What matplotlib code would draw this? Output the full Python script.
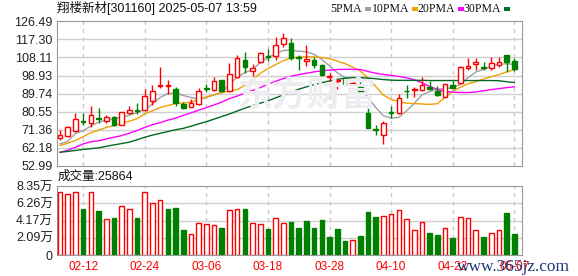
import numpy as np
import matplotlib.pyplot as plt
from matplotlib.patches import Rectangle

plt.rcParams['font.family'] = ['Liberation Sans', 'Noto Sans CJK SC']

# trading days shown on the chart
dates = ['02-07', '02-10', '02-11', '02-12', '02-13', '02-14', '02-17', '02-18', '02-19', '02-20',
         '02-21', '02-24', '02-25', '02-26', '02-27', '02-28', '03-03', '03-04', '03-05', '03-06',
         '03-07', '03-10', '03-11', '03-12', '03-13', '03-14', '03-17', '03-18', '03-19', '03-20',
         '03-21', '03-24', '03-25', '03-26', '03-27', '03-28', '03-31', '04-01', '04-02', '04-03',
         '04-07', '04-08', '04-09', '04-10', '04-11', '04-14', '04-15', '04-16', '04-17', '04-18',
         '04-21', '04-22', '04-23', '04-24', '04-25', '04-28', '04-29', '04-30', '05-06', '05-07']

opens = [67.26, 68.27, 70.96, 75.6, 75.0, 77.19, 76.01, 78.03, 73.99, 79.88,
         81.56, 81.56, 86.1, 93.51, 93.51, 92.33, 84.42, 83.08, 84.59, 92.5,
         91.66, 96.54, 91.15, 98.22, 106.8, 101.25, 105.79, 108.65, 108.82, 114.88,
         115.22, 108.32, 106.47, 106.63, 104.28, 98.05, 96.37, 97.21, 94.52, 93.34,
         79.71, 71.63, 68.94, 80.55, 80.05, 91.32, 91.49, 91.66, 93.34, 91.15,
         88.12, 94.18, 95.19, 102.93, 104.78, 103.44, 102.76, 104.45, 109.49, 106.13]
highs = [71.47, 73.2, 79.71, 80.05, 83.58, 82.23, 78.87, 78.53, 80.55, 83.58,
         85.09, 92.33, 94.18, 103.44, 96.87, 93.34, 85.26, 86.95, 92.84, 94.52,
         98.22, 96.87, 105.29, 109.49, 110.67, 104.62, 111.01, 112.19, 118.58, 120.6,
         118.08, 109.33, 114.37, 108.32, 104.62, 100.41, 97.37, 97.88, 96.54, 96.03,
         83.75, 73.99, 75.67, 83.58, 89.81, 94.18, 93.17, 98.39, 96.2, 93.84,
         94.69, 96.2, 103.77, 107.98, 107.98, 105.96, 108.49, 108.32, 109.6, 107.64]
lows = [66.25, 67.5, 70.29, 73.65, 72.98, 74.66, 75.0, 73.32, 73.8, 79.2,
        79.2, 81.05, 84.08, 92.84, 89.81, 83.58, 82.07, 82.74, 84.08, 90.82,
        91.15, 90.65, 90.82, 97.88, 100.07, 98.22, 105.29, 106.3, 106.8, 113.53,
        106.8, 101.75, 103.77, 102.93, 98.72, 96.2, 92.33, 94.18, 93.68, 89.97,
        72.1, 68.77, 64.23, 77.19, 79.38, 87.62, 88.29, 90.99, 91.83, 88.8,
        87.79, 92.5, 94.85, 101.75, 101.75, 101.75, 101.92, 103.27, 100.91, 101.25]
closes = [68.61, 72.98, 77.02, 75.4, 79.04, 77.0, 78.03, 73.82, 80.22, 81.56,
          80.72, 88.46, 91.15, 94.01, 94.01, 84.76, 82.57, 84.76, 91.15, 91.99,
          96.2, 90.99, 99.57, 107.81, 103.1, 102.93, 110.34, 108.32, 114.37, 117.91,
          107.64, 107.98, 107.14, 104.11, 99.23, 98.56, 96.87, 94.85, 95.02, 90.48,
          72.31, 71.3, 74.66, 80.05, 87.62, 90.99, 91.99, 94.35, 91.99, 89.13,
          94.69, 92.84, 103.27, 103.77, 105.79, 102.6, 105.12, 105.96, 105.79, 102.43]

# volume in 万 shares, and whether the bar is drawn red (up)
volumes = [7.66, 7.38, 7.66, 5.53, 7.66, 5.32, 4.32, 4.44, 5.93, 5.53,
           4.44, 7.66, 6.25, 6.62, 5.53, 5.65, 3.03, 2.50, 3.83, 3.75,
           3.63, 3.23, 5.41, 5.53, 5.53, 3.83, 3.75, 3.11, 4.44, 3.83,
           3.99, 3.31, 4.11, 3.27, 4.24, 2.18, 3.15, 1.69, 1.77, 2.30,
           5.20, 4.60, 4.72, 4.96, 5.41, 4.32, 2.98, 3.95, 2.66, 2.42,
           3.23, 2.06, 4.56, 4.44, 2.98, 2.18, 2.66, 2.98, 5.08, 2.54]
vol_up = [1, 1, 1, 0, 1, 0, 1, 0, 1, 1, 0, 1, 1, 1, 0, 0, 0, 1, 1, 1,
          1, 0, 1, 1, 0, 1, 1, 0, 1, 1, 0, 0, 0, 0, 0, 0, 0, 0, 1, 0,
          0, 0, 1, 1, 1, 1, 1, 1, 0, 0, 1, 0, 1, 1, 1, 0, 1, 1, 0, 0]

ma5 = [64.2, 65.6, 69.5, 71.0, 73.3, 75.2, 76.5, 77.0, 77.7, 78.8,
       80.0, 81.7, 84.5, 87.8, 89.8, 90.1, 88.8, 87.8, 86.9, 87.8,
       89.1, 90.3, 94.5, 98.2, 100.4, 102.1, 105.5, 108.0, 110.0, 111.7,
       111.8, 111.3, 111.0, 109.7, 107.1, 103.8, 100.4, 97.9, 96.2, 92.8,
       87.8, 82.7, 78.5, 77.3, 77.7, 81.0, 84.8, 89.1, 90.8, 92.0,
       92.3, 92.8, 94.5, 97.9, 100.7, 102.1, 103.8, 104.6, 104.9, 104.6]
ma10 = [63.4, 64.6, 65.9, 67.9, 69.9, 71.2, 72.6, 73.5, 74.7, 75.8,
        77.0, 79.5, 81.0, 82.7, 83.7, 84.7, 85.0, 85.4, 86.7, 88.1,
        89.1, 90.3, 91.0, 91.8, 94.0, 97.0, 100.0, 102.5, 104.5, 106.5,
        107.9, 108.3, 108.5, 108.4, 108.1, 107.5, 106.3, 105.0, 103.2, 101.2,
        97.7, 93.4, 89.0, 86.8, 85.7, 84.9, 84.7, 84.5, 84.3, 84.6,
        87.8, 91.0, 93.0, 94.8, 95.8, 97.2, 98.3, 99.4, 100.8, 101.9]
ma20 = [59.9, 61.0, 62.5, 64.2, 65.3, 65.8, 66.7, 67.6, 68.4, 69.7,
        71.0, 72.6, 74.0, 75.0, 76.3, 77.3, 78.7, 80.0, 81.3, 82.7,
        84.0, 85.5, 87.2, 88.5, 90.0, 91.4, 92.8, 94.6, 96.0, 97.4,
        98.6, 99.4, 100.1, 100.8, 101.3, 101.7, 102.0, 102.1, 102.1, 102.0,
        101.0, 100.1, 99.5, 99.0, 98.5, 97.8, 96.8, 95.3, 93.4, 91.9,
        90.9, 90.5, 90.3, 90.3, 90.6, 91.2, 91.8, 92.3, 92.8, 93.2]
ma30 = [60.0, 60.4, 60.9, 61.4, 61.8, 62.2, 63.0, 63.7, 64.4, 65.1,
        66.3, 67.6, 68.7, 69.6, 70.5, 71.4, 72.1, 73.2, 74.4, 75.5,
        76.8, 78.1, 79.4, 80.9, 82.4, 83.6, 84.9, 86.1, 87.6, 89.1,
        90.6, 92.0, 93.2, 94.3, 95.3, 96.2, 97.0, 97.6, 97.9, 97.9,
        97.6, 97.3, 96.9, 96.6, 96.5, 96.5, 96.5, 96.5, 96.4, 96.4,
        96.4, 96.4, 96.4, 96.4, 96.4, 96.4, 96.4, 96.3, 95.8, 95.4]

price_ticks = [52.99, 62.18, 71.36, 80.55, 89.74, 98.93, 108.11, 117.30, 126.49]
vol_ticks = [0, 2.09, 4.17, 6.26, 8.35]
vol_tick_labels = ['0', '2.09万', '4.17万', '6.26万', '8.35万']
label_idx = [3, 11, 19, 27, 35, 43, 51, 59]

RED = '#ff0000'
GREEN = '#008000'
W, H = 578, 276

fig = plt.figure(figsize=(W / 100, H / 100), dpi=100, facecolor='white')
ax1 = fig.add_axes([57 / W, 1 - 166 / H, 465 / W, 144.7 / H])
ax2 = fig.add_axes([57 / W, 1 - 255 / H, 465 / W, 69 / H])

x = np.arange(len(dates))

# watermark behind price panel
fig.text(307 / W, 1 - 95 / H, '东方财富', fontsize=25, fontweight='bold', color='#ededf1',
         ha='center', va='center', family='Noto Sans CJK SC', zorder=0)
ax1.set_facecolor('none')

# candles
for i in x:
    o, h, l, c = opens[i], highs[i], lows[i], closes[i]
    if c >= o:
        top, bot = c, o
        if top - bot < 0.4:
            top = bot + 0.4
        ax1.vlines(i, top, h, color=RED, lw=1, zorder=3)
        ax1.vlines(i, l, bot, color=RED, lw=1, zorder=3)
        ax1.add_patch(Rectangle((i - 0.3, bot), 0.6, top - bot, fc='white', ec=RED, lw=1, zorder=4))
    else:
        top, bot = o, c
        if top - bot < 0.4:
            bot = top - 0.4
        ax1.vlines(i, l, h, color=GREEN, lw=1, zorder=3)
        ax1.add_patch(Rectangle((i - 0.3, bot), 0.6, top - bot, fc=GREEN, ec=GREEN, lw=1, zorder=4))

ax1.plot(x, ma5, color='#a0a0a0', lw=1, zorder=2)
ax1.plot(x, ma10, color='#f0a000', lw=1, zorder=2)
ax1.plot(x, ma20, color='#ff00ff', lw=1, zorder=2)
ax1.plot(x, ma30, color='#006a20', lw=1, zorder=2)

# volume
for i in x:
    if vol_up[i]:
        ax2.bar(i, volumes[i], width=0.6, fc='white', ec=RED, lw=1, zorder=3)
    else:
        ax2.bar(i, volumes[i], width=0.6, fc=GREEN, ec=GREEN, lw=1, zorder=3)

for ax in (ax1, ax2):
    ax.set_xlim(-0.4, 60.0)
    for s in ax.spines.values():
        s.set_color('#999999')
    ax.tick_params(length=0)
    for xi in label_idx:
        ax.axvline(xi, color='#c8c8c8', lw=1, ls=(0, (3, 3)), zorder=1)

ax1.set_ylim(price_ticks[0], price_ticks[-1])
ax1.set_yticks(price_ticks)
ax1.set_yticklabels(['%.2f' % v for v in price_ticks], fontsize=9, color='#222222')
ax1.tick_params(axis='y', pad=3)
ax1.set_xticks([])
for v in price_ticks[1:-1]:
    ax1.axhline(v, color='#d0d0d0', lw=1, zorder=1)

ax2.set_ylim(0, 8.35)
ax2.set_yticks(vol_ticks)
ax2.set_yticklabels(vol_tick_labels, fontsize=9, color='#222222')
ax2.tick_params(axis='y', pad=3)
ax2.set_xticks(label_idx)
ax2.set_xticklabels([dates[i] for i in label_idx], fontsize=8.5, color=RED)
ax2.tick_params(axis='x', pad=4)
for v in vol_ticks[1:-1]:
    ax2.axhline(v, color='#d0d0d0', lw=1, zorder=1)

# header texts
fig.text(57 / W, 1 - 8 / H, '翔楼新材[301160] 2025-05-07 13:59', fontsize=9, color='#111111',
         ha='left', va='center')
fig.text(58 / W, 1 - 177 / H, '成交量:25864', fontsize=9, color='#111111', ha='left', va='center')

legend = [('5PMA', 362, '#a0a0a0'), ('10PMA', 409, '#f0a000'),
          ('20PMA', 455, '#ff00ff'), ('30PMA', 501, '#006a20')]
for name, xr, col in legend:
    fig.text(xr / W, 1 - 8.5 / H, name, fontsize=8.5, family='Liberation Serif', color='#111111',
             ha='right', va='center')
    fig.patches.append(Rectangle(((xr + 3) / W, 1 - 10.5 / H), 6 / W, 4 / H, fc=col, ec='none',
                                 transform=fig.transFigure, figure=fig))

fig.text(570 / W, 1 - 267 / H, 'www.365jz.com', fontsize=12.5, family='Liberation Serif',
         color='#1d3b78', ha='right', va='center')

fig.savefig('out.png', dpi=100, facecolor='white')
